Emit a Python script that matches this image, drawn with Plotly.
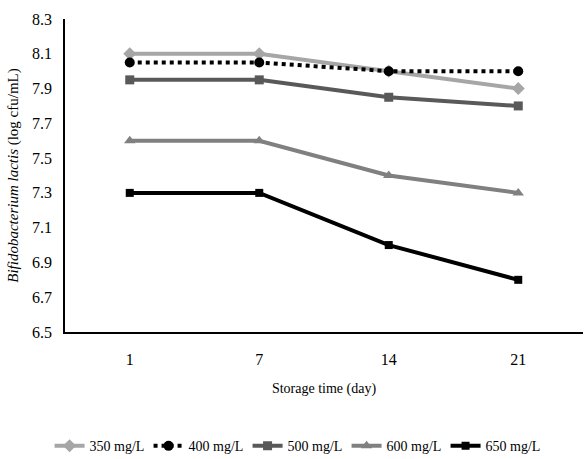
import plotly.graph_objects as go

days = ["1", "7", "14", "21"]
s350 = [8.10, 8.10, 8.00, 7.90]
s400 = [8.05, 8.05, 8.00, 8.00]
s500 = [7.95, 7.95, 7.85, 7.80]
s600 = [7.60, 7.60, 7.40, 7.30]
s650 = [7.30, 7.30, 7.00, 6.80]
y_ticks = [6.5, 6.7, 6.9, 7.1, 7.3, 7.5, 7.7, 7.9, 8.1, 8.3]

series = [
    ("350 mg/L", s350, "#a6a6a6", "solid", "diamond", 10),
    ("400 mg/L", s400, "#000000", "dot", "circle", 10),
    ("500 mg/L", s500, "#595959", "solid", "square", 9),
    ("600 mg/L", s600, "#808080", "solid", "triangle-up", 10),
    ("650 mg/L", s650, "#000000", "solid", "square", 8),
]

fig = go.Figure()
for name, vals, col, dash, sym, ms in series:
    fig.add_trace(go.Scatter(
        x=days, y=vals, name=name, mode="lines+markers",
        line=dict(color=col, width=4, dash=dash),
        marker=dict(color=col, symbol=sym, size=ms),
    ))

font = "Liberation Serif, Times New Roman, serif"
fig.update_layout(
    width=585, height=459,
    margin=dict(l=65, r=2, t=19, b=127, autoexpand=False),
    paper_bgcolor="white", plot_bgcolor="white",
    font=dict(family=font, color="#000000", size=14),
    showlegend=True,
    legend=dict(orientation="h", x=0.448, xanchor="center", y=-0.365, yanchor="middle",
                font=dict(size=14, family=font), tracegroupgap=0,
                entrywidth=54, entrywidthmode="pixels"),
    xaxis=dict(type="category", range=[-0.5, 3.5], showgrid=False,
               showline=True, linecolor="#000000", linewidth=2,
               ticks="outside", ticklen=12, tickcolor="rgba(0,0,0,0)",
               tickfont=dict(size=16), zeroline=False, automargin=False,
               title=dict(text="Storage time (day)", font=dict(size=14), standoff=16)),
    yaxis=dict(range=[6.5, 8.3], tickvals=y_ticks, ticktext=[f"{v:.1f}" for v in y_ticks],
               showgrid=False, showline=True, linecolor="#000000", linewidth=1.5,
               ticks="outside", ticklen=8, tickcolor="rgba(0,0,0,0)",
               tickfont=dict(size=16), zeroline=False, automargin=False,
               title=dict(text="<i>Bifidobacterium lactis</i> (log cfu/mL)",
                          font=dict(size=15), standoff=10)),
)

fig.write_html("out.html", post_script="document.body.style.margin='0';",
               config={"displayModeBar": False})
